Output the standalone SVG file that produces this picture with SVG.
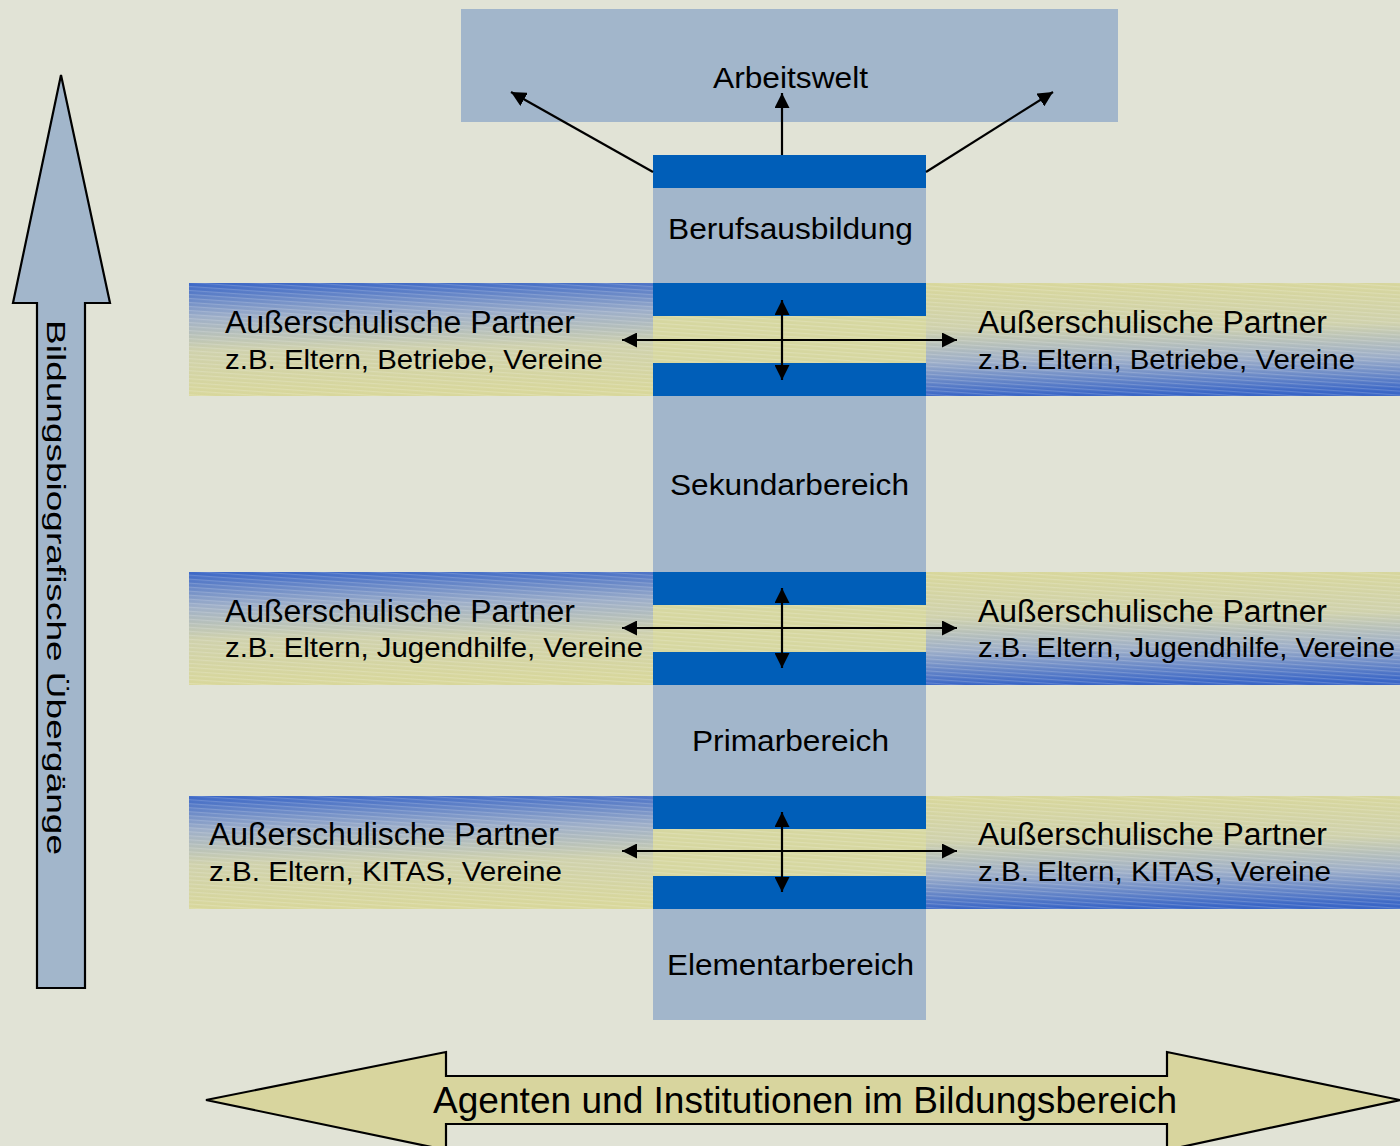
<svg xmlns="http://www.w3.org/2000/svg" width="1400" height="1146" viewBox="0 0 1400 1146">
<defs>
<style>
text{font-family:"Liberation Sans",Arial,sans-serif;fill:#000}
.lbl{font-size:30px;text-anchor:start}
.l1{font-size:31px}
.l2{font-size:28.5px}
.bar{fill:#005EB8}
.col{fill:#A2B6CB}
.con{stroke:#000;stroke-width:2.2;fill:none}
.big{stroke:#000;stroke-width:2.2}
</style>
<linearGradient id="gL" x1="0" y1="0" x2="0.05" y2="1">
<stop offset="0" stop-color="#3A66C6"/>
<stop offset="0.3" stop-color="#9DAEC8"/>
<stop offset="0.6" stop-color="#CFD1AC"/>
<stop offset="1" stop-color="#D8D79B"/>
</linearGradient>
<linearGradient id="gR" x1="0" y1="0" x2="0.05" y2="1">
<stop offset="0" stop-color="#D8D79B"/>
<stop offset="0.4" stop-color="#CFD1AC"/>
<stop offset="0.7" stop-color="#9DAEC8"/>
<stop offset="1" stop-color="#3A66C6"/>
</linearGradient>
<pattern id="hatch" width="12" height="4" patternUnits="userSpaceOnUse" patternTransform="rotate(4)">
<rect width="12" height="1.2" fill="#ffffff" fill-opacity="0.18"/>
</pattern>
<marker id="ah" viewBox="0 0 10 10" refX="10" refY="5" markerWidth="15" markerHeight="15" markerUnits="userSpaceOnUse" orient="auto">
<path d="M0,0 L10,5 L0,10 z" fill="#000"/>
</marker>
</defs>
<rect width="1400" height="1146" fill="#E1E3D6"/>

<g id="arbeitswelt">
<rect x="461" y="9" width="657" height="113" fill="#A2B6CB"/>
<text class="lbl" x="713" y="88" textLength="155" lengthAdjust="spacingAndGlyphs">Arbeitswelt</text>
</g>

<g id="column">
<rect class="col" x="653" y="155" width="273" height="865"/>
</g>

<g id="band1">
<rect x="189" y="283" width="464" height="113" fill="url(#gL)"/>
<rect x="926" y="283" width="474" height="113" fill="url(#gR)"/>
<rect x="653" y="316" width="273" height="47" fill="#D6D7A0"/>
<rect x="189" y="283" width="1211" height="113" fill="url(#hatch)"/>
</g>
<g id="band2">
<rect x="189" y="572" width="464" height="113" fill="url(#gL)"/>
<rect x="926" y="572" width="474" height="113" fill="url(#gR)"/>
<rect x="653" y="605" width="273" height="47" fill="#D6D7A0"/>
<rect x="189" y="572" width="1211" height="113" fill="url(#hatch)"/>
</g>
<g id="band3">
<rect x="189" y="796" width="464" height="113" fill="url(#gL)"/>
<rect x="926" y="796" width="474" height="113" fill="url(#gR)"/>
<rect x="653" y="829" width="273" height="47" fill="#D6D7A0"/>
<rect x="189" y="796" width="1211" height="113" fill="url(#hatch)"/>
</g>

<g id="bars">
<rect class="bar" x="653" y="155" width="273" height="33"/>
<rect class="bar" x="653" y="283" width="273" height="33"/>
<rect class="bar" x="653" y="363" width="273" height="33"/>
<rect class="bar" x="653" y="572" width="273" height="33"/>
<rect class="bar" x="653" y="652" width="273" height="33"/>
<rect class="bar" x="653" y="796" width="273" height="33"/>
<rect class="bar" x="653" y="876" width="273" height="33"/>
</g>

<g id="berufsausbildung"><text class="lbl" x="668" y="239" textLength="245" lengthAdjust="spacingAndGlyphs">Berufsausbildung</text></g>
<g id="sekundarbereich"><text class="lbl" x="670" y="495" textLength="239" lengthAdjust="spacingAndGlyphs">Sekundarbereich</text></g>
<g id="primarbereich"><text class="lbl" x="692" y="751" textLength="197" lengthAdjust="spacingAndGlyphs">Primarbereich</text></g>
<g id="elementarbereich"><text class="lbl" x="667" y="975" textLength="247" lengthAdjust="spacingAndGlyphs">Elementarbereich</text></g>

<g id="partner1-left">
<text class="l1" x="225" y="333" textLength="350" lengthAdjust="spacingAndGlyphs">Außerschulische Partner</text>
<text class="l2" x="225" y="369" textLength="378" lengthAdjust="spacingAndGlyphs">z.B. Eltern, Betriebe, Vereine</text>
</g>
<g id="partner1-right">
<text class="l1" x="978" y="333" textLength="349" lengthAdjust="spacingAndGlyphs">Außerschulische Partner</text>
<text class="l2" x="978" y="369" textLength="377" lengthAdjust="spacingAndGlyphs">z.B. Eltern, Betriebe, Vereine</text>
</g>
<g id="partner2-left">
<text class="l1" x="225" y="622" textLength="350" lengthAdjust="spacingAndGlyphs">Außerschulische Partner</text>
<text class="l2" x="225" y="657" textLength="418" lengthAdjust="spacingAndGlyphs">z.B. Eltern, Jugendhilfe, Vereine</text>
</g>
<g id="partner2-right">
<text class="l1" x="978" y="622" textLength="349" lengthAdjust="spacingAndGlyphs">Außerschulische Partner</text>
<text class="l2" x="978" y="657" textLength="417" lengthAdjust="spacingAndGlyphs">z.B. Eltern, Jugendhilfe, Vereine</text>
</g>
<g id="partner3-left">
<text class="l1" x="209" y="845" textLength="350" lengthAdjust="spacingAndGlyphs">Außerschulische Partner</text>
<text class="l2" x="209" y="881" textLength="353" lengthAdjust="spacingAndGlyphs">z.B. Eltern, KITAS, Vereine</text>
</g>
<g id="partner3-right">
<text class="l1" x="978" y="845" textLength="349" lengthAdjust="spacingAndGlyphs">Außerschulische Partner</text>
<text class="l2" x="978" y="881" textLength="353" lengthAdjust="spacingAndGlyphs">z.B. Eltern, KITAS, Vereine</text>
</g>

<g id="connectors">
<line class="con" x1="782" y1="155" x2="782" y2="93" marker-end="url(#ah)"/>
<line class="con" x1="653" y1="172" x2="511" y2="92" marker-end="url(#ah)"/>
<line class="con" x1="926" y1="172" x2="1053" y2="92" marker-end="url(#ah)"/>

<line class="con" x1="782" y1="340" x2="622" y2="340" marker-end="url(#ah)"/>
<line class="con" x1="782" y1="340" x2="957" y2="340" marker-end="url(#ah)"/>
<line class="con" x1="782" y1="340" x2="782" y2="300" marker-end="url(#ah)"/>
<line class="con" x1="782" y1="340" x2="782" y2="380" marker-end="url(#ah)"/>

<line class="con" x1="782" y1="628" x2="622" y2="628" marker-end="url(#ah)"/>
<line class="con" x1="782" y1="628" x2="957" y2="628" marker-end="url(#ah)"/>
<line class="con" x1="782" y1="628" x2="782" y2="588" marker-end="url(#ah)"/>
<line class="con" x1="782" y1="628" x2="782" y2="668" marker-end="url(#ah)"/>

<line class="con" x1="782" y1="851" x2="622" y2="851" marker-end="url(#ah)"/>
<line class="con" x1="782" y1="851" x2="957" y2="851" marker-end="url(#ah)"/>
<line class="con" x1="782" y1="851" x2="782" y2="812" marker-end="url(#ah)"/>
<line class="con" x1="782" y1="851" x2="782" y2="892" marker-end="url(#ah)"/>
</g>

<g id="uebergaenge">
<polygon class="big" points="61,75 110,303 85,303 85,988 37,988 37,303 13,303" fill="#A2B6CB"/>
<text transform="translate(47,320) rotate(90)" font-size="25" textLength="535" lengthAdjust="spacingAndGlyphs">Bildungsbiografische Übergänge</text>
</g>

<g id="agenten">
<polygon class="big" points="206,1100 446,1052 446,1076 1167,1076 1167,1052 1400,1100 1167,1150 1167,1124 446,1124 446,1150" fill="#D8D59E"/>
<text x="433" y="1113" font-size="36" textLength="744" lengthAdjust="spacingAndGlyphs">Agenten und Institutionen im Bildungsbereich</text>
</g>
</svg>
